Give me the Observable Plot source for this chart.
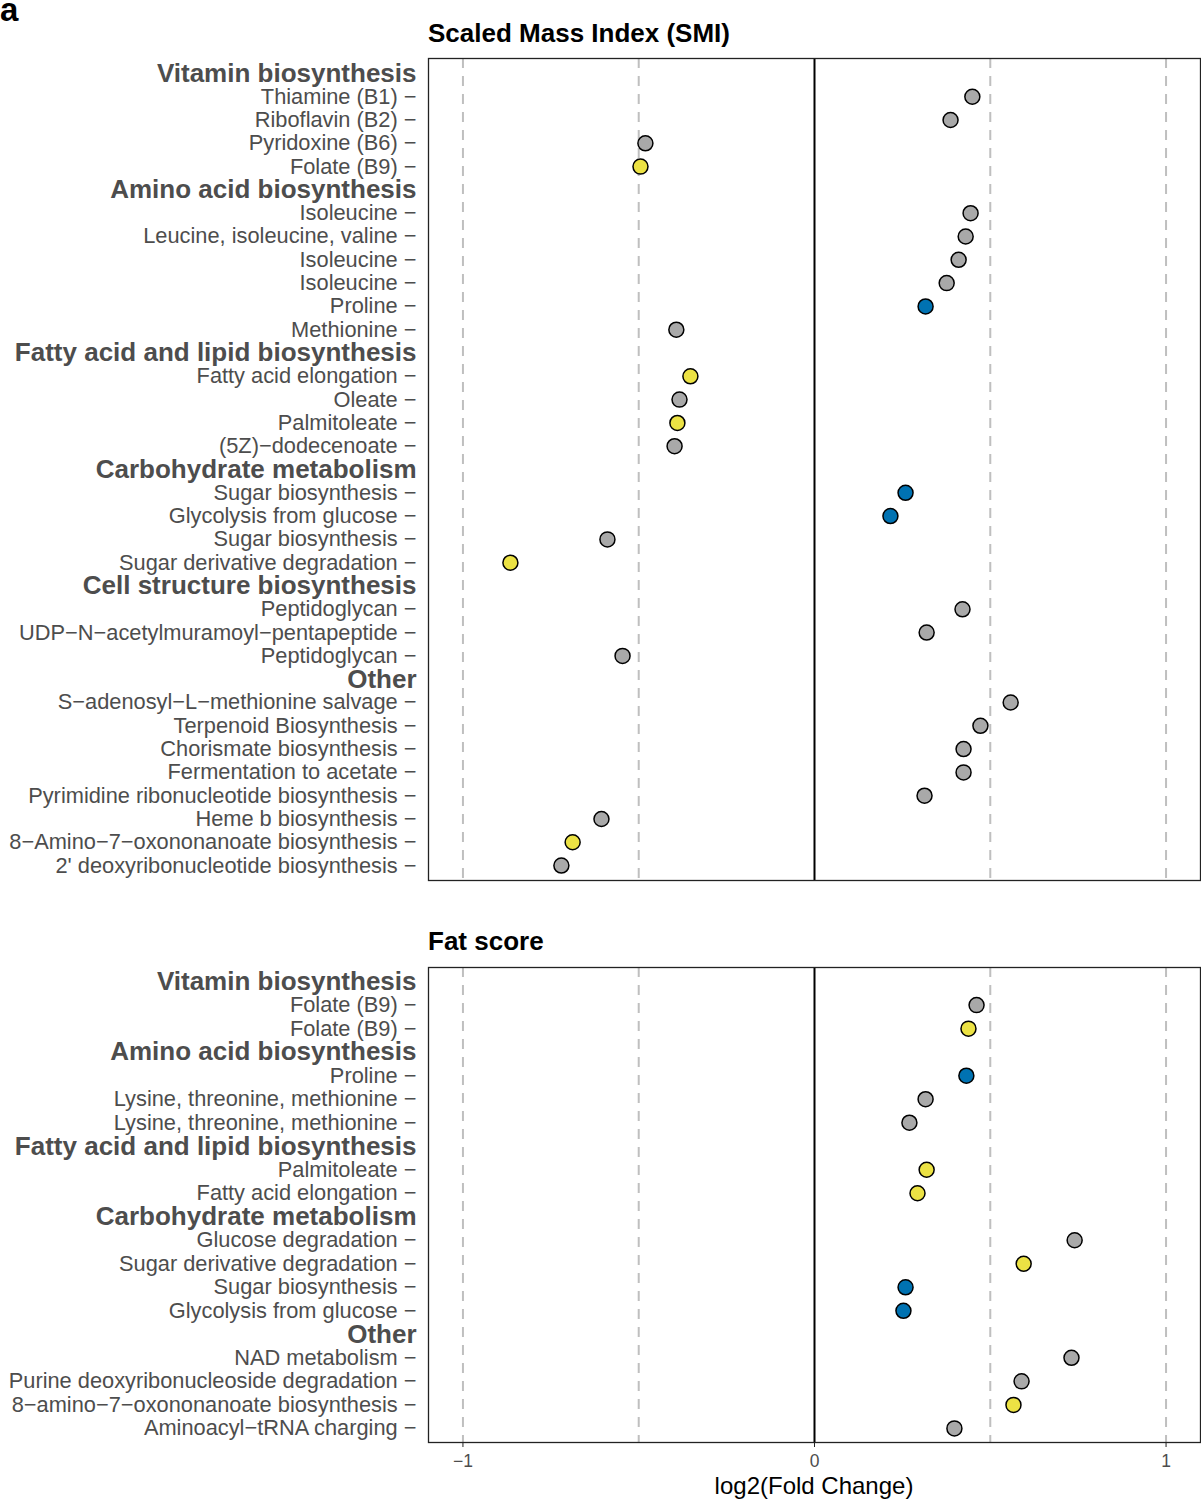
<!DOCTYPE html>
<html><head><meta charset="utf-8">
<script src="https://cdn.jsdelivr.net/npm/d3@7"></script>
<script src="https://cdn.jsdelivr.net/npm/@observablehq/plot@0.6"></script>
<style>
body{margin:0;background:#fff;font-family:"Liberation Sans",Arial,sans-serif;}
#wrap{position:relative;width:1201px;height:1500px;overflow:hidden;}
.abs{position:absolute;line-height:1;white-space:nowrap;}
</style></head><body><div id="wrap"></div>
<script>
// ---- Data ----
// class codes: "H" = group header row, "n" = not significant (grey), "y" = yellow, "b" = blue
const smiLabels = [
  "Vitamin biosynthesis","Thiamine (B1)","Riboflavin (B2)","Pyridoxine (B6)","Folate (B9)",
  "Amino acid biosynthesis","Isoleucine","Leucine, isoleucine, valine","Isoleucine","Isoleucine","Proline","Methionine",
  "Fatty acid and lipid biosynthesis","Fatty acid elongation","Oleate","Palmitoleate","(5Z)\u2212dodecenoate",
  "Carbohydrate metabolism","Sugar biosynthesis","Glycolysis from glucose","Sugar biosynthesis","Sugar derivative degradation",
  "Cell structure biosynthesis","Peptidoglycan","UDP\u2212N\u2212acetylmuramoyl\u2212pentapeptide","Peptidoglycan",
  "Other","S\u2212adenosyl\u2212L\u2212methionine salvage","Terpenoid Biosynthesis","Chorismate biosynthesis","Fermentation to acetate",
  "Pyrimidine ribonucleotide biosynthesis","Heme b biosynthesis","8\u2212Amino\u22127\u2212oxononanoate biosynthesis","2' deoxyribonucleotide biosynthesis"
];
const smiValues = [
  null,0.449,0.387,-0.481,-0.495,
  null,0.444,0.430,0.410,0.376,0.316,-0.393,
  null,-0.353,-0.384,-0.390,-0.398,
  null,0.259,0.216,-0.589,-0.865,
  null,0.421,0.319,-0.546,
  null,0.558,0.472,0.424,0.424,0.313,-0.606,-0.688,-0.720
];
const smiClass = [
  "H","n","n","n","y",
  "H","n","n","n","n","b","n",
  "H","y","n","y","n",
  "H","b","b","n","y",
  "H","n","n","n",
  "H","n","n","n","n","n","n","y","n"
];

const fatLabels = [
  "Vitamin biosynthesis","Folate (B9)","Folate (B9)",
  "Amino acid biosynthesis","Proline","Lysine, threonine, methionine","Lysine, threonine, methionine",
  "Fatty acid and lipid biosynthesis","Palmitoleate","Fatty acid elongation",
  "Carbohydrate metabolism","Glucose degradation","Sugar derivative degradation","Sugar biosynthesis","Glycolysis from glucose",
  "Other","NAD metabolism","Purine deoxyribonucleoside degradation","8\u2212amino\u22127\u2212oxononanoate biosynthesis","Aminoacyl\u2212tRNA charging"
];
const fatValues = [
  null,0.461,0.438,
  null,0.432,0.316,0.270,
  null,0.319,0.293,
  null,0.740,0.595,0.259,0.253,
  null,0.731,0.589,0.566,0.398
];
const fatClass = [
  "H","n","y",
  "H","b","n","n",
  "H","y","y",
  "H","n","y","b","b",
  "H","n","n","y","n"
];

const xTicks = [-1, 0, 1];
const dashedAt = [-1, -0.5, 0.5, 1];

// ---- Drawing ----
const FONT = "'Liberation Sans', Arial, sans-serif";
const fmt = d => d < 0 ? "\u2212" + Math.abs(d) : String(d);
function panel(labels, values, classes, frameH, pad, withAxis) {
  const rows = labels.map((l, i) => ({id: String(i), label: l, value: values[i], cls: classes[i]}));
  const items = rows.filter(r => r.cls !== "H");
  const heads = rows.filter(r => r.cls === "H");
  const mb = withAxis ? 58 : 1;
  const marks = [
    Plot.ruleX(dashedAt, {stroke: "#bfbfbf", strokeWidth: 2, strokeDasharray: "10,8"}),
    Plot.ruleX([0], {stroke: "#000", strokeWidth: 2}),
    Plot.frame({stroke: "#222", strokeWidth: 1.3}),
    Plot.dot(items, {x: "value", y: "id", r: 7.5, fill: "cls", stroke: "#000", strokeWidth: 1.5}),
    Plot.text(items, {y: "id", text: d => d.label + " \u2212", frameAnchor: "left", textAnchor: "end", dx: -12, fontSize: 21.8, fill: "#4d4d4d"}),
    Plot.text(heads, {y: "id", text: "label", frameAnchor: "left", textAnchor: "end", dx: -12, fontSize: 26, fontWeight: "bold", fill: "#4d4d4d"})
  ];
  if (withAxis) {
    marks.push(Plot.axisX({ticks: xTicks, tickSize: 5, tickFormat: () => "", color: "#222", label: null}));
    marks.push(Plot.axisX({ticks: xTicks, tickSize: 0, tickPadding: 12, fontSize: 17.5, color: "#4d4d4d", tickFormat: fmt, label: null}));
  }
  return Plot.plot({
    width: 1201, height: 1 + frameH + mb,
    marginLeft: 428, marginRight: 1, marginTop: 1, marginBottom: mb,
    style: {fontFamily: FONT, background: "transparent", overflow: "visible"},
    x: {domain: [-1.098, 1.098], axis: null},
    y: {type: "point", domain: rows.map(r => r.id), padding: pad, round: false, axis: null},
    color: {type: "ordinal", domain: ["n", "y", "b"], range: ["#a9a9a9", "#ece244", "#0072b2"]},
    marks
  });
}

const wrap = document.getElementById("wrap");
function addText(txt, left, top, size, weight, color, center, lh) {
  const d = document.createElement("div");
  d.className = "abs";
  d.textContent = txt;
  d.style.left = left + "px";
  d.style.top = top + "px";
  d.style.fontSize = size + "px";
  d.style.fontWeight = weight;
  d.style.color = color;
  if (lh) d.style.lineHeight = lh + "px";
  if (center) d.style.transform = "translateX(-50%)";
  wrap.appendChild(d);
}
function addSvg(svg, top) {
  const d = document.createElement("div");
  d.className = "abs";
  d.style.left = "0px";
  d.style.top = top + "px";
  d.appendChild(svg);
  wrap.appendChild(d);
}

addText("a", 0, 0, 33, "bold", "#000", false, 20);
addText("Scaled Mass Index (SMI)", 428, 20, 26, "bold", "#000");
addSvg(panel(smiLabels, smiValues, smiClass, 822, 0.64, false), 57);
addText("Fat score", 428, 928, 26, "bold", "#000");
addSvg(panel(fatLabels, fatValues, fatClass, 475, 0.6, true), 966);
addText("log2(Fold Change)", 814, 1474, 24, "normal", "#000", true);
</script></body></html>
